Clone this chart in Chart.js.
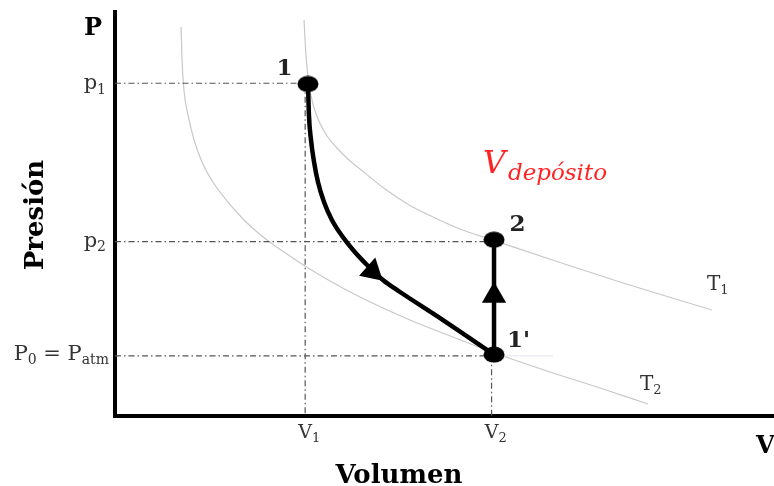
<!DOCTYPE html>
<html>
<head>
<meta charset="utf-8">
<script src="https://cdn.jsdelivr.net/npm/chart.js@4.4.1/dist/chart.umd.min.js"></script>
<style>
  html, body { margin: 0; padding: 0; background: #fff; }
  #wrap { width: 774px; height: 486px; }
</style>
</head>
<body>
<div id="wrap"><canvas id="c"></canvas></div>
<script>
// state values (arbitrary units: V1 ~ 1, P0 ~ 1 atm)
const V1 = 1.01, V2 = 2.0;
const p1 = 5.45, p2 = 2.855, P0 = 0.985;

// isotherm T1 (through states 1 and 2)
const t1V = [1.004, 1.014, 1.030, 1.051, 1.083, 1.126, 1.179, 1.237, 1.301, 1.434, 1.567, 1.700, 1.832, 2.013, 2.363, 2.682, 3.171];
const t1P = [6.487, 5.913, 5.438, 5.111, 4.832, 4.586, 4.390, 4.210, 4.046, 3.718, 3.448, 3.243, 3.063, 2.875, 2.514, 2.195, 1.736];

// isotherm T2 (through state 1')
const t2V = [0.351, 0.356, 0.366, 0.388, 0.420, 0.462, 0.520, 0.600, 0.696, 0.807, 0.929, 1.009, 1.142, 1.301, 1.567, 1.795, 2.002, 2.310, 2.576, 2.831];
const t2P = [6.372, 5.831, 5.340, 4.930, 4.521, 4.161, 3.833, 3.505, 3.178, 2.883, 2.621, 2.457, 2.211, 1.949, 1.572, 1.294, 1.048, 0.721, 0.459, 0.197];

// process 1 -> 1'
const procV = [1.025, 1.030, 1.041, 1.057, 1.078, 1.110, 1.152, 1.206, 1.269, 1.344, 1.423, 1.514, 1.742, 2.013];
const procP = [5.438, 4.930, 4.521, 4.161, 3.833, 3.505, 3.210, 2.948, 2.703, 2.457, 2.228, 2.031, 1.572, 1.006];

// states 1, 2, 1'
const stateNames = ['1', '2', "1'"];
const stateV = [1.025, 2.013, 2.013];
const stateP = [5.438, 2.887, 1.006];

// direction arrows on the process lines
const arrowV = [1.367, 2.013];
const arrowP = [2.37, 1.971];
const arrowRot = [132, 0];

const toPts = (xs, ys) => xs.map((v, i) => ({x: v, y: ys[i]}));

function ellipseMarker(w, h) {
    const c = document.createElement('canvas');
    c.width = w; c.height = h;
    const g = c.getContext('2d');
    g.fillStyle = '#000';
    g.beginPath();
    g.ellipse(w / 2, h / 2, w / 2 - 0.5, h / 2 - 0.5, 0, 0, Math.PI * 2);
    g.fill();
    return c;
}

const dashDot = [6, 3, 1.5, 3];
const refLine = (pts) => ({
    data: pts, borderColor: '#555', borderWidth: 1.2, borderDash: dashDot,
    pointRadius: 0, showLine: true, order: 6
});
const curve = (xs, ys, color, width, order) => ({
    data: toPts(xs, ys), borderColor: color, borderWidth: width,
    cubicInterpolationMode: 'monotone', pointRadius: 0, showLine: true, order: order
});

// text with subscripts: segs = [[text, isSub], ...]
function rich(ctx, segs, x, y, size, align, weight, family) {
    const fam = family || "'DejaVu Serif'";
    const big = `${weight || ''} ${size}px ${fam}`;
    const small = `${weight || ''} ${Math.round(size * 0.66)}px ${fam}`;
    let w = 0;
    segs.forEach(s => { ctx.font = s[1] ? small : big; w += ctx.measureText(s[0]).width; });
    let cx = align === 'right' ? x - w : (align === 'center' ? x - w / 2 : x);
    ctx.textAlign = 'left';
    ctx.textBaseline = 'alphabetic';
    segs.forEach(s => {
        ctx.font = s[1] ? small : big;
        ctx.fillText(s[0], cx, s[1] ? y + size * 0.22 : y);
        cx += ctx.measureText(s[0]).width;
    });
}

const drawing = {
    id: 'drawing',
    beforeDatasetsDraw(chart) {
        const {ctx, chartArea: a, scales: {x, y}} = chart;
        ctx.save();
        ctx.strokeStyle = '#000';
        ctx.lineWidth = 4;
        ctx.beginPath();
        ctx.moveTo(x.getPixelForValue(0), a.top);
        ctx.lineTo(x.getPixelForValue(0), y.getPixelForValue(0));
        ctx.moveTo(x.getPixelForValue(0) - 2, y.getPixelForValue(0));
        ctx.lineTo(a.right, y.getPixelForValue(0));
        ctx.stroke();
        ctx.restore();
    },
    afterDraw(chart) {
        const {ctx, scales: {x, y}} = chart;
        const X = v => x.getPixelForValue(v), Y = v => y.getPixelForValue(v);
        ctx.save();

        // tick labels
        ctx.fillStyle = '#333';
        rich(ctx, [['p', 0], ['1', 1]], 106, Y(p1) + 6, 21, 'right');
        rich(ctx, [['p', 0], ['2', 1]], 106, Y(p2) + 5, 21, 'right');
        rich(ctx, [['P', 0], ['0', 1], [' = P', 0], ['atm', 1]], 109, Y(P0) + 4, 21, 'right');
        ctx.font = "19px 'DejaVu Serif'";
        const vw = ctx.measureText('V').width;
        rich(ctx, [['V', 0], ['1', 1]], X(V1) - vw / 2, 438, 19, 'left');
        rich(ctx, [['V', 0], ['2', 1]], X(V2) - vw / 2, 438, 19, 'left');

        // axis titles
        ctx.fillStyle = '#000';
        ctx.font = "bold 24px 'DejaVu Serif'";
        ctx.textAlign = 'center';
        ctx.fillText('P', 93, 35);
        ctx.textAlign = 'left';
        ctx.fillText('V', 756, 453);
        ctx.font = "bold 26px 'DejaVu Serif'";
        ctx.textAlign = 'center';
        ctx.fillText('Volumen', 399, 483);
        ctx.save();
        ctx.translate(43, 215);
        ctx.rotate(-Math.PI / 2);
        ctx.fillText('Presión', 0, 0);
        ctx.restore();

        // state labels
        ctx.fillStyle = '#222';
        ctx.font = "bold 23px 'DejaVu Serif'";
        ctx.textAlign = 'center';
        ctx.fillText(stateNames[0], X(0.900), Y(5.586));
        ctx.fillText(stateNames[1], X(2.138), Y(3.034));
        ctx.textAlign = 'left';
        ctx.fillText(stateNames[2], X(2.082), Y(1.137));

        // isotherm labels
        ctx.fillStyle = '#333';
        rich(ctx, [['T', 0], ['1', 1]], X(3.144), Y(2.069), 20, 'left');
        rich(ctx, [['T', 0], ['2', 1]], X(2.788), Y(0.434), 20, 'left');

        // tank volume
        ctx.fillStyle = '#ff2424';
        ctx.font = "italic 31px 'DejaVu Serif'";
        ctx.textAlign = 'left';
        ctx.fillText('V', X(1.954), Y(3.983));
        ctx.font = "italic 23px 'DejaVu Serif'";
        ctx.fillText('depósito', X(1.954) + 25, Y(3.983) + 7);

        ctx.restore();
    }
};

new Chart(document.getElementById('c'), {
    type: 'scatter',
    data: {
        datasets: [
            curve(t1V, t1P, '#c8c8c8', 1.2, 7),
            curve(t2V, t2P, '#c8c8c8', 1.2, 7),
            refLine([{x: 0, y: p1}, {x: stateV[0], y: p1}]),
            refLine([{x: V1, y: p1}, {x: V1, y: 0}]),
            refLine([{x: 0, y: p2}, {x: stateV[1], y: p2}]),
            refLine([{x: 0, y: P0}, {x: stateV[2], y: P0}]),
            refLine([{x: V2, y: P0}, {x: V2, y: 0}]),
            { data: [{x: stateV[2], y: P0}, {x: 2.326, y: P0}], borderColor: '#e1e5ee', borderWidth: 1, pointRadius: 0, showLine: true, order: 6 },
            curve(procV, procP, '#000', 4.5, 3),
            { data: [{x: stateV[2], y: stateP[2]}, {x: stateV[1], y: stateP[1]}], borderColor: '#000', borderWidth: 4.5, pointRadius: 0, showLine: true, order: 3 },
            { data: toPts(arrowV, arrowP), pointStyle: 'triangle', pointRadius: 14, pointRotation: arrowRot,
              backgroundColor: '#000', borderColor: '#000', borderWidth: 0, showLine: false, order: 2 },
            { data: toPts(stateV, stateP), pointStyle: ellipseMarker(22, 17), pointRadius: 10,
              showLine: false, order: 1 }
        ]
    },
    options: {
        responsive: true,
        maintainAspectRatio: false,
        animation: false,
        events: [],
        layout: { autoPadding: false, padding: { left: 115, right: 0, top: 10, bottom: 70 } },
        scales: {
            x: { type: 'linear', display: false, min: 0, max: 3.5 },
            y: { type: 'linear', display: false, min: 0, max: 6.65 }
        },
        plugins: { legend: { display: false }, tooltip: { enabled: false } }
    },
    plugins: [drawing]
});
</script>
</body>
</html>
